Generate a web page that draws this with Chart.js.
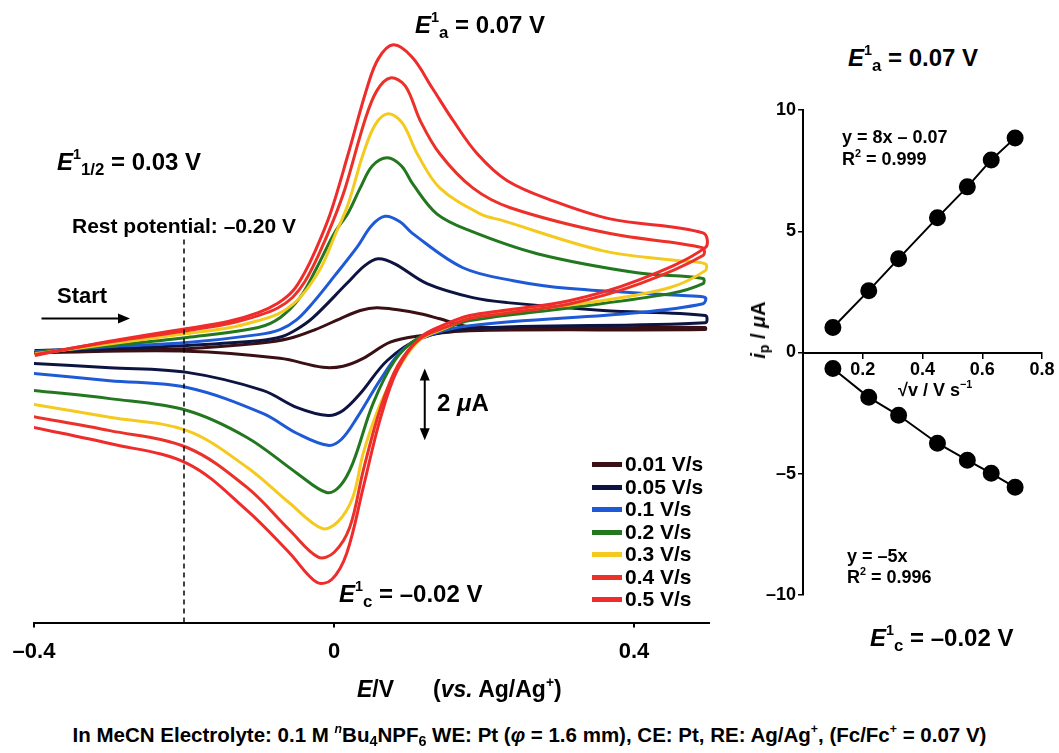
<!DOCTYPE html>
<html lang="en">
<head>
<meta charset="UTF-8">
<title>Cyclic voltammograms vs. scan rate</title>
<script src="https://cdn.jsdelivr.net/npm/chart.js"></script>
<style>
    body {
        margin: 0;
        width: 1059px;
        height: 753px;
        position: relative;
        overflow: hidden;
        background: #fff;
        font-family: 'Liberation Sans', Arial, sans-serif;
    }
    #main { position: absolute; left: 0; top: 0; width: 730px; height: 676px; }
    #inset { position: absolute; left: 740px; top: 80px; width: 319px; height: 560px; }
    .t {
        position: absolute;
        font-weight: bold;
        white-space: nowrap;
        line-height: 1;
        color: #000;
    }
    .sp { font-size: .6em; position: relative; top: -.75em; }
    .sb { font-size: .7em; position: relative; top: .3em; }
    .sw { display: inline-block; width: 30px; height: 5px; margin-right: 3px; vertical-align: 4px; }
</style>
</head>
<body>
    <div id="main"><canvas id="cvChart"></canvas></div>
    <div id="inset"><canvas id="peakChart"></canvas></div>

    <!-- annotations, main plot -->
    <div class="t" style="left:415px; top:13px; font-size:24px"><i>E</i><span class="sp">1</span><span class="sb">a</span> = 0.07 V</div>
    <div class="t" style="left:57px; top:150px; font-size:24px"><i>E</i><span class="sp">1</span><span class="sb">1/2</span> = 0.03 V</div>
    <div class="t" style="left:72px; top:215px; font-size:21px">Rest potential: –0.20 V</div>
    <div class="t" style="left:57px; top:285px; font-size:22px">Start</div>
    <div class="t" style="left:437px; top:391px; font-size:24px">2 <i>μ</i>A</div>
    <div class="t" style="left:339px; top:582px; font-size:24px"><i>E</i><span class="sp">1</span><span class="sb">c</span> = –0.02 V</div>
    <div class="t" style="left:357px; top:678px; font-size:23px"><i>E</i>/V</div>
    <div class="t" style="left:433px; top:678px; font-size:23px">(<i>vs.</i> Ag/Ag<span class="sp">+</span>)</div>
    <div id="legend"></div>

    <!-- annotations, inset -->
    <div class="t" style="left:848px; top:46px; font-size:24px"><i>E</i><span class="sp">1</span><span class="sb">a</span> = 0.07 V</div>
    <div class="t" style="left:842px; top:128px; font-size:18px">y = 8x – 0.07</div>
    <div class="t" style="left:842px; top:150px; font-size:18px">R<span class="sp">2</span> = 0.999</div>
    <div class="t" style="left:847px; top:547px; font-size:18px">y = –5x</div>
    <div class="t" style="left:847px; top:568px; font-size:18px">R<span class="sp">2</span> = 0.996</div>
    <div class="t" style="left:870px; top:626px; font-size:24px"><i>E</i><span class="sp">1</span><span class="sb">c</span> = –0.02 V</div>
    <div class="t" style="left:898px; top:381px; font-size:18px">√v / V s<span class="sp">−1</span></div>
    <div class="t" style="left:758px; top:330px; font-size:20px; transform:translate(-50%,-50%) rotate(-90deg)"><i>i</i><span class="sb">p</span> / <i>μ</i>A</div>

    <div class="t" style="left:0; width:1059px; text-align:center; top:725px; font-size:20.5px">In MeCN Electrolyte: 0.1 M <span class="sp"><i>n</i></span>Bu<span class="sb">4</span>NPF<span class="sb">6</span> WE: Pt (<i>φ</i> = 1.6 mm), CE: Pt, RE: Ag/Ag<span class="sp">+</span>, (Fc/Fc<span class="sp">+</span> = 0.07 V)</div>

<script>
    // scan rates and colours
    const rates = ['0.01 V/s', '0.05 V/s', '0.1 V/s', '0.2 V/s', '0.3 V/s', '0.4 V/s', '0.5 V/s'];
    const lineColors = ['#3a1014', '#0e1442', '#1f5ad6', '#23771f', '#f4ca1e', '#ec3129', '#ef2b2b'];

    // CV traces, [E / V, i / uA]: forward scan to +0.5 V then reverse to -0.4 V
    const cv001 = [[-0.399,-0.33],[-0.295,-0.31],[-0.196,-0.28],[-0.1,-0.13],[-0.06,0.0],[-0.025,0.25],[0.008,0.55],[0.035,0.78],[0.057,0.86],[0.085,0.8],[0.115,0.69],[0.141,0.55],[0.181,0.33],[0.35,0.30],[0.495,0.31],
                   [0.495,0.25],[0.181,0.22],[0.115,0.08],[0.075,-0.1],[0.039,-0.55],[0.012,-0.77],[-0.015,-0.8],[-0.072,-0.55],[-0.196,-0.35],[-0.401,-0.39]];
    const cv005 = [[-0.399,-0.33],[-0.295,-0.28],[-0.196,-0.19],[-0.101,-0.06],[-0.07,0.05],[-0.05,0.25],[-0.028,0.58],[0.017,1.53],[0.041,2.03],[0.059,2.22],[0.081,2.08],[0.124,1.53],[0.185,1.14],[0.231,1.00],[0.359,0.78],[0.495,0.64],
                   [0.495,0.44],[0.181,0.28],[0.115,0.00],[0.071,-0.61],[0.035,-1.53],[0.012,-2.0],[-0.008,-2.14],[-0.049,-1.92],[-0.095,-1.44],[-0.196,-0.94],[-0.299,-0.81],[-0.401,-0.69]];
    const cv01 = [[-0.399,-0.36],[-0.295,-0.22],[-0.196,-0.11],[-0.101,0.11],[-0.072,0.25],[-0.05,0.52],[-0.028,1.0],[0.001,1.75],[0.031,2.55],[0.05,3.14],[0.068,3.40],[0.088,3.25],[0.105,2.92],[0.172,1.97],[0.239,1.61],[0.315,1.39],[0.471,1.19],[0.495,1.14],
                  [0.492,0.97],[0.404,0.72],[0.181,0.36],[0.115,0.00],[0.088,-0.39],[0.061,-1.17],[0.031,-2.19],[0.01,-2.8],[-0.008,-2.97],[-0.049,-2.64],[-0.095,-2.08],[-0.196,-1.36],[-0.299,-1.17],[-0.401,-0.97]];
    const cv02 = [[-0.399,-0.39],[-0.295,-0.19],[-0.196,0.03],[-0.101,0.31],[-0.072,0.58],[-0.045,1.15],[-0.023,1.97],[0.001,2.95],[0.019,3.50],[0.035,4.19],[0.051,4.80],[0.071,5.03],[0.09,4.80],[0.105,4.30],[0.137,3.47],[0.181,3.00],[0.271,2.36],[0.404,1.83],[0.492,1.67],
                  [0.492,1.53],[0.448,1.25],[0.315,0.86],[0.181,0.50],[0.141,0.22],[0.111,0.00],[0.081,-0.61],[0.052,-1.81],[0.025,-3.47],[0.008,-4.1],[-0.01,-4.28],[-0.049,-3.75],[-0.116,-2.75],[-0.196,-2.00],[-0.299,-1.67],[-0.401,-1.44]];
    const cv03 = [[-0.399,-0.42],[-0.295,-0.14],[-0.196,0.14],[-0.14,0.3],[-0.101,0.50],[-0.075,0.68],[-0.055,0.95],[-0.037,1.35],[-0.016,2.03],[0.001,2.86],[0.019,3.75],[0.039,5.14],[0.055,5.95],[0.072,6.25],[0.091,6.00],[0.111,5.14],[0.141,4.19],[0.195,3.47],[0.225,3.28],[0.359,2.44],[0.457,2.17],[0.495,2.08],
                  [0.495,1.89],[0.448,1.42],[0.359,1.06],[0.181,0.58],[0.151,0.31],[0.115,-0.03],[0.088,-0.75],[0.061,-1.86],[0.039,-3.19],[0.025,-4.42],[0.005,-5.1],[-0.016,-5.28],[-0.059,-4.58],[-0.116,-3.58],[-0.196,-2.56],[-0.299,-2.19],[-0.401,-1.83]];
    const cv04 = [[-0.399,-0.44],[-0.295,-0.08],[-0.196,0.22],[-0.14,0.42],[-0.101,0.64],[-0.075,0.85],[-0.055,1.15],[-0.039,1.58],[-0.021,2.31],[-0.001,3.28],[0.015,4.19],[0.041,6.06],[0.057,6.89],[0.075,7.25],[0.095,7.03],[0.115,6.06],[0.141,5.14],[0.185,4.19],[0.235,3.64],[0.368,2.92],[0.491,2.53],
                  [0.492,2.31],[0.408,1.53],[0.315,0.97],[0.225,0.69],[0.181,0.56],[0.151,0.33],[0.115,0.00],[0.085,-0.75],[0.061,-2.00],[0.039,-3.67],[0.021,-5.25],[0.0,-5.95],[-0.021,-6.08],[-0.059,-5.33],[-0.116,-4.14],[-0.196,-3.03],[-0.299,-2.56],[-0.401,-2.17]];
    const cv05 = [[-0.399,-0.47],[-0.295,-0.06],[-0.196,0.28],[-0.14,0.48],[-0.101,0.72],[-0.075,0.98],[-0.055,1.32],[-0.04,1.80],[-0.025,2.44],[-0.005,3.47],[0.019,5.14],[0.044,6.97],[0.059,7.78],[0.079,8.17],[0.104,7.83],[0.131,6.97],[0.159,6.06],[0.191,5.14],[0.231,4.39],[0.292,3.83],[0.368,3.33],[0.492,2.94],
                  [0.495,2.53],[0.404,1.61],[0.315,1.06],[0.225,0.78],[0.181,0.64],[0.151,0.42],[0.115,0.03],[0.084,-0.89],[0.061,-2.28],[0.039,-4.14],[0.017,-5.97],[-0.003,-6.7],[-0.023,-6.78],[-0.059,-5.97],[-0.116,-4.78],[-0.196,-3.47],[-0.299,-2.92],[-0.401,-2.47]];
    const curves = [cv001, cv005, cv01, cv02, cv03, cv04, cv05];

    const restPotential = -0.2;
    const eTicks = [-0.4, 0, 0.4];
    const scaleBar = { e: 0.121, from: -0.83, to: -2.83 };   // 2 uA bar
    const startArrow = { from: -0.39, to: -0.272, i: 0.56 };

    // inset: peak currents vs sqrt(scan rate)
    const sqrtV = [0.10, 0.22, 0.32, 0.45, 0.55, 0.63, 0.71];
    const ipAnodic = [1.03, 2.55, 3.87, 5.56, 6.83, 7.94, 8.85];
    const ipCathodic = [-0.66, -1.85, -2.59, -3.74, -4.44, -4.98, -5.56];
    const ipTicks = [-10, -5, 0, 5, 10];
    const sqrtTicks = [0.2, 0.4, 0.6, 0.8];

    const dash = v => v < 0 ? '–' + Math.abs(v) : String(v);

    // legend (html)
    const legend = document.getElementById('legend');
    rates.forEach((r, k) => {
        const row = document.createElement('div');
        row.className = 't';
        row.style.cssText = `left:592px; top:${463 + k * 22.5 - 10}px; font-size:21px`;
        row.innerHTML = `<span class="sw" style="background:${lineColors[k]}"></span>${r}`;
        legend.appendChild(row);
    });

    function arrowHead(ctx, x, y, dx, dy) {
        const len = 12, half = 5;
        ctx.beginPath();
        ctx.moveTo(x, y);
        ctx.lineTo(x - dx * len - dy * half, y - dy * len + dx * half);
        ctx.lineTo(x - dx * len + dy * half, y - dy * len - dx * half);
        ctx.closePath();
        ctx.fill();
    }

    const arrows = {
        id: 'arrows',
        afterDatasetsDraw(chart) {
            const { ctx, scales: { x, y } } = chart;
            ctx.save();
            ctx.strokeStyle = '#000';
            ctx.fillStyle = '#000';
            ctx.lineWidth = 2;
            // Start arrow
            const sx0 = x.getPixelForValue(startArrow.from), sx1 = x.getPixelForValue(startArrow.to);
            const sy = y.getPixelForValue(startArrow.i);
            ctx.beginPath(); ctx.moveTo(sx0, sy); ctx.lineTo(sx1 - 8, sy); ctx.stroke();
            arrowHead(ctx, sx1, sy, 1, 0);
            // 2 uA scale bar
            const bx = x.getPixelForValue(scaleBar.e);
            const by0 = y.getPixelForValue(scaleBar.from), by1 = y.getPixelForValue(scaleBar.to);
            ctx.beginPath(); ctx.moveTo(bx, by0 + 8); ctx.lineTo(bx, by1 - 8); ctx.stroke();
            arrowHead(ctx, bx, by0, 0, -1);
            arrowHead(ctx, bx, by1, 0, 1);
            ctx.restore();
        }
    };

    const cvSets = curves.map((c, k) => ({
        label: rates[k],
        data: c.map(([e, i]) => ({ x: e, y: i })),
        borderColor: lineColors[k],
        borderWidth: 3,
        showLine: true,
        pointRadius: 0,
        tension: 0.35
    })).reverse();   // faster scans on top

    const restLine = {
        data: [{ x: restPotential, y: -7.9 }, { x: restPotential, y: 2.8 }],
        borderColor: '#000',
        borderWidth: 1.5,
        borderDash: [5, 4],
        showLine: true,
        pointRadius: 0
    };

    const tickFont = { family: 'Liberation Sans', weight: 'bold', size: 22 };

    new Chart(document.getElementById('cvChart'), {
        type: 'scatter',
        data: { datasets: [restLine, ...cvSets] },
        options: {
            responsive: true,
            maintainAspectRatio: false,
            animation: false,
            layout: { padding: { left: 34, right: 21, top: 15, bottom: 0 } },
            plugins: { legend: { display: false }, tooltip: { enabled: false } },
            scales: {
                x: {
                    type: 'linear',
                    min: -0.4,
                    max: 0.5,
                    afterBuildTicks: axis => { axis.ticks = eTicks.map(v => ({ value: v })); },
                    ticks: { font: tickFont, color: '#000', padding: 11, callback: v => dash(v) },
                    grid: { drawOnChartArea: false, color: '#000', lineWidth: 2, tickLength: 5 },
                    border: { color: '#000', width: 2 }
                },
                y: { display: false, min: -7.9, max: 9.0 }
            }
        },
        plugins: [arrows]
    });

    const smallFont = { family: 'Liberation Sans', weight: 'bold', size: 18 };

    const pointSet = values => ({
        data: sqrtV.map((v, k) => ({ x: v, y: values[k] })),
        showLine: true,
        borderColor: '#000',
        borderWidth: 2,
        pointRadius: 7.5,
        pointBackgroundColor: '#000',
        pointBorderColor: '#000'
    });

    new Chart(document.getElementById('peakChart'), {
        type: 'scatter',
        data: { datasets: [pointSet(ipAnodic), pointSet(ipCathodic)] },
        options: {
            responsive: true,
            maintainAspectRatio: false,
            animation: false,
            layout: { padding: { left: 24, right: 17, top: 30, bottom: 45 } },
            plugins: { legend: { display: false }, tooltip: { enabled: false } },
            scales: {
                x: {
                    type: 'linear',
                    min: 0,
                    max: 0.8,
                    position: { y: 0 },
                    afterBuildTicks: axis => { axis.ticks = sqrtTicks.map(v => ({ value: v })); },
                    ticks: { font: smallFont, color: '#000', padding: 2, maxRotation: 0 },
                    grid: { drawOnChartArea: false, color: '#000', lineWidth: 1.5, tickLength: 5 },
                    border: { color: '#000', width: 2 }
                },
                y: {
                    min: -10,
                    max: 10,
                    afterBuildTicks: axis => { axis.ticks = ipTicks.map(v => ({ value: v })); },
                    ticks: { font: smallFont, color: '#000', padding: 2, callback: v => dash(v) },
                    grid: { drawOnChartArea: false, color: '#000', lineWidth: 1.5, tickLength: 5 },
                    border: { color: '#000', width: 2 }
                }
            }
        }
    });
</script>
</body>
</html>
